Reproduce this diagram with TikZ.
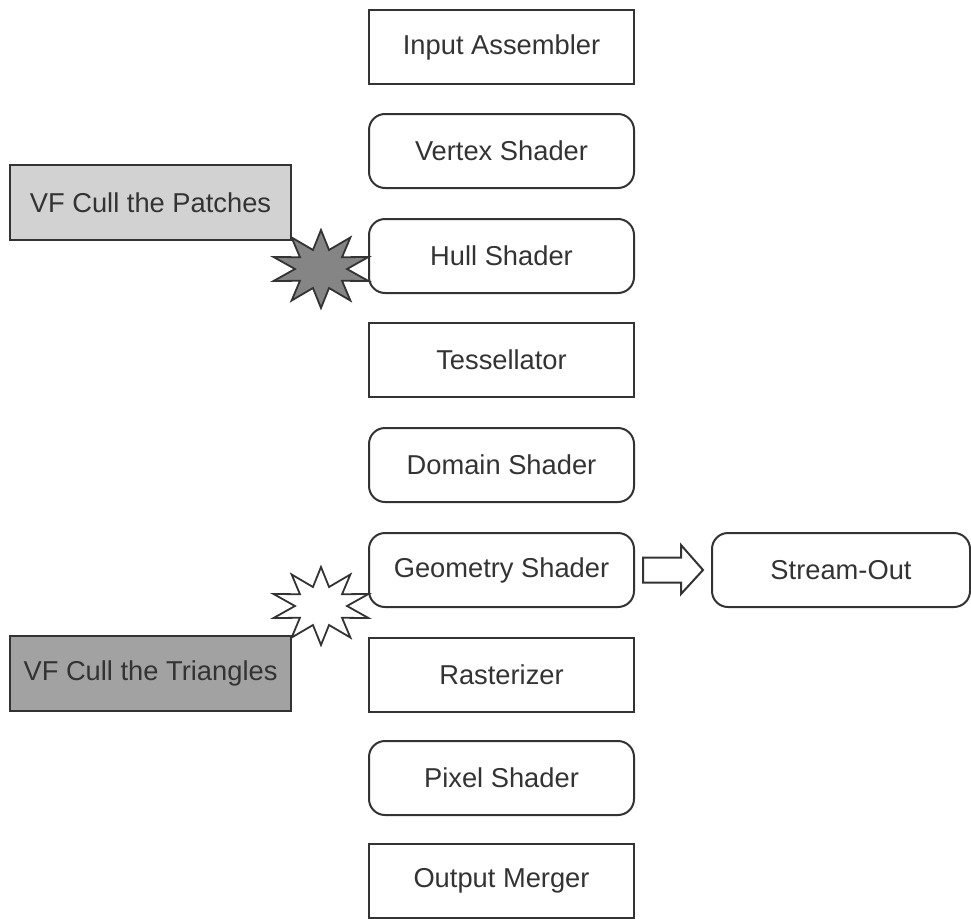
\documentclass[tikz,border=0pt]{standalone}
\usepackage{fontspec}
\setmainfont{Liberation Sans}
\usetikzlibrary{calc}
\definecolor{ink}{HTML}{333333}
\definecolor{patchfill}{HTML}{D2D2D2}
\definecolor{trifill}{HTML}{A2A2A2}
\definecolor{burstfill}{HTML}{858585}
\begin{document}
\begin{tikzpicture}[x=1pt,y=-1pt,
  declare function={rx(\a)=(mod(\a,36)==0) ? 50 : 26; ry(\a)=(mod(\a,36)==0) ? 39 : 20;},
  stage/.style={draw=ink, line width=2pt, minimum width=265pt, minimum height=74pt, inner sep=0pt, text=ink, font=\fontsize{27.3}{30}\selectfont},
  roundstage/.style={stage, rounded corners=16pt},
  cullbox/.style={draw=ink, line width=2pt, minimum width=281pt, minimum height=75pt, inner sep=0pt, text=ink, font=\fontsize{27.3}{30}\selectfont},
  burst/.style={draw=ink, line width=1.8pt, line join=miter},
  hollow/.style={draw=ink, line width=2pt, fill=white, line join=miter}
]
\useasboundingbox (0,0) rectangle (971,918);

% cull boxes
\node[cullbox, fill=patchfill] (cp) at (150.5,202.5) {VF Cull the Patches};
\node[cullbox, fill=trifill] (ct) at (150.5,673.5) {VF Cull the Triangles};

% starbursts
\coordinate (b1) at (321,269);
\coordinate (b2) at (321,606);
\draw[burst, fill=burstfill, shift={(b1)}]
  plot[samples at={0,18,...,342}] ({rx(\x)*cos(\x+18)},{ry(\x)*sin(\x+18)}) -- cycle;
\draw[burst, fill=white, shift={(b2)}]
  plot[samples at={0,18,...,342}] ({rx(\x)*cos(\x+18)},{ry(\x)*sin(\x+18)}) -- cycle;

% pipeline stages
\node[stage] (ia) at (501.5,47) {Input Assembler};
\node[roundstage] (vs) at (501.5,151) {Vertex Shader};
\node[roundstage] (hs) at (501.5,256) {Hull Shader};
\node[stage] (ts) at (501.5,360) {Tessellator};
\node[roundstage] (ds) at (501.5,465) {Domain Shader};
\node[roundstage] (gs) at (501.5,570) {Geometry Shader};
\node[stage] (rs) at (501.5,674.5) {Rasterizer};
\node[roundstage] (ps) at (501.5,778) {Pixel Shader};
\node[stage] (om) at (501.5,881) {Output Merger};

\node[roundstage, minimum width=258pt] (so) at (841,570) {Stream-Out};

% hollow arrow
\draw[hollow] ($(gs.east)+(8,-12.5)$) -- ($(gs.east)+(46,-12.5)$) -- ($(gs.east)+(46,-25)$)
  -- ($(so.west)+(-8,0)$) -- ($(gs.east)+(46,24)$) -- ($(gs.east)+(46,12.5)$)
  -- ($(gs.east)+(8,12.5)$) -- cycle;
\end{tikzpicture}
\end{document}
